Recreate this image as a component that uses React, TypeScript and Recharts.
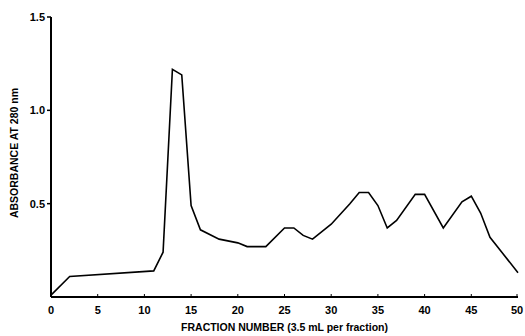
import { LineChart, Line, XAxis, YAxis } from 'recharts';

const fractions = [0, 2, 11, 12, 13, 14, 15, 16, 18, 20, 21, 23, 25, 26, 27, 28, 30, 32, 33, 34, 35, 36, 37, 39, 40, 42, 44, 45, 46, 47, 50];
const absorbance = [0.01, 0.11, 0.14, 0.24, 1.22, 1.19, 0.49, 0.36, 0.31, 0.29, 0.27, 0.27, 0.37, 0.37, 0.33, 0.31, 0.39, 0.5, 0.56, 0.56, 0.49, 0.37, 0.41, 0.55, 0.55, 0.37, 0.51, 0.54, 0.45, 0.32, 0.13];
const xTicks = [0, 5, 10, 15, 20, 25, 30, 35, 40, 45, 50];
const yTicks = [0.5, 1.0, 1.5];

const data = fractions.map((f, i) => ({ fraction: f, value: absorbance[i] }));

const FONT = '"Liberation Sans", Arial, sans-serif';

function XTick({ x, y, payload }: any) {
  return (
    <g>
      <line x1={x} x2={x} y1={y - 9} y2={y - 12} stroke="#000" strokeWidth={1} />
      <text x={x} y={y} dy="0.71em" textAnchor="middle" fontFamily={FONT} fontWeight="bold" fontSize={11} fill="#000">
        {payload.value}
      </text>
    </g>
  );
}

export default function App() {
  return (
    <div style={{ position: 'absolute', left: 0, top: 0, background: '#fff' }}>
      <LineChart width={525} height={336} data={data} margin={{ top: 17, right: 7, left: 0, bottom: 0 }}>
        <XAxis
          dataKey="fraction"
          type="number"
          domain={[0, 50]}
          ticks={xTicks}
          height={39}
          tickSize={0}
          tickMargin={9}
          tick={<XTick />}
          axisLine={{ stroke: '#000', strokeWidth: 2 }}
          label={{
            value: 'FRACTION NUMBER (3.5 mL per fraction)',
            position: 'insideBottom',
            offset: 5,
            style: { fontFamily: FONT, fontWeight: 'bold', fontSize: 10.5, fill: '#000' },
          }}
        />
        <YAxis
          type="number"
          domain={[0, 1.5]}
          ticks={yTicks}
          width={51}
          tickSize={4}
          tickMargin={2}
          tickFormatter={(v: number) => v.toFixed(1)}
          tick={{ fontFamily: FONT, fontWeight: 'bold', fontSize: 11, fill: '#000' }}
          tickLine={{ stroke: '#000', strokeWidth: 1.5 }}
          axisLine={{ stroke: '#000', strokeWidth: 2 }}
          label={{
            value: 'ABSORBANCE AT 280 nm',
            angle: -90,
            position: 'insideLeft',
            offset: 14,
            dy: -4,
            style: { textAnchor: 'middle', fontFamily: FONT, fontWeight: 'bold', fontSize: 10.5, fill: '#000' },
          }}
        />
        <Line
          type="linear"
          dataKey="value"
          stroke="#000"
          strokeWidth={1.6}
          dot={false}
          isAnimationActive={false}
        />
      </LineChart>
    </div>
  );
}
